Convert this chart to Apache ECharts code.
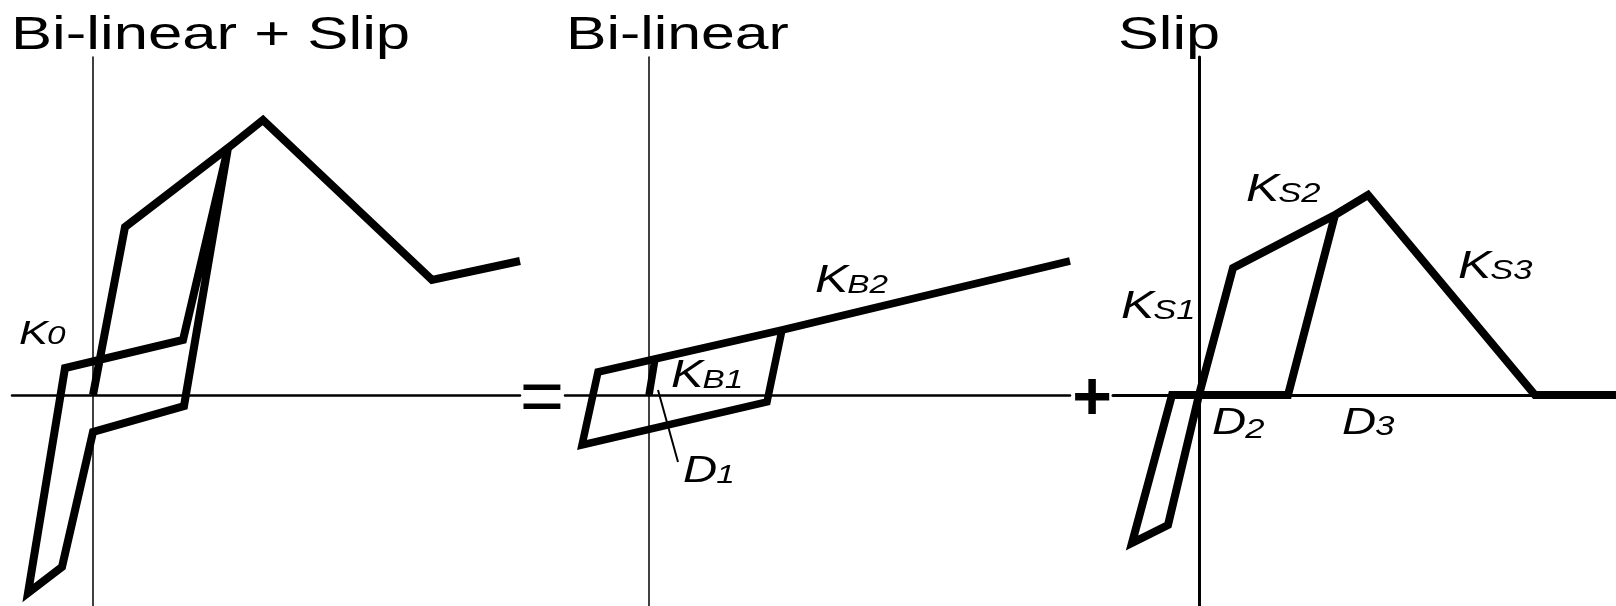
<!DOCTYPE html>
<html lang="en">
<head>
    <meta charset="UTF-8">
    <title>Bi-linear + Slip</title>
    <script src="https://cdn.jsdelivr.net/npm/echarts/dist/echarts.min.js"></script>
    <style>
        html, body { margin: 0; padding: 0; background: #fff; }
    </style>
</head>
<body>
<div id="mybox" style="width: 1616px; height: 606px;"></div>
<script>
    // hysteresis paths, displacement / force in arbitrary units
    var comboX = [0, 3.2, 13.5, 9.1, 0, -3.1, -6.5, -2.8, 9.0, 13.5, 17.0, 33.9, 42.7];
    var comboY = [0, 16.8, 24.7, -1.1, -3.7, -17.2, -19.8, 2.7, 5.5, 24.7, 27.5, 11.5, 13.4];

    var bilinX = [0, 0.6, 13.3, 11.8, -6.7, -5.1, 13.3, 42.1];
    var bilinY = [0, 3.6, 6.5, -0.7, -5.0, 2.3, 6.5, 13.4];

    // leader line for D1
    var leaderX = [0.9, 2.9];
    var leaderY = [0.5, -6.7];

    var slipX = [0, 3.4, 13.6, 8.9, -2.7, -6.7, -3.1, 0, 3.4, 13.6, 16.9, 33.6, 41.7];
    var slipY = [0, 12.7, 18.0, 0, 0, -14.8, -13.0, 0, 12.7, 18.0, 20.0, 0, 0];

    var titles = ['Bi-linear + Slip', 'Bi-linear', 'Slip'];

    function pairs(xs, ys) {
        var out = [];
        for (var i = 0; i < xs.length; i++) {
            out.push([xs[i], ys[i]]);
        }
        return out;
    }

    var FONT = '"Liberation Sans", Arial, sans-serif';
    var SX = 1.28; // the source lettering is stretched sideways
    var measure = document.createElement('canvas').getContext('2d');

    function text(s, x, y, size, style, sx) {
        return {
            type: 'text', x: x, y: y, scaleX: sx || SX,
            style: {
                text: s, fill: '#000', fontSize: size, fontFamily: FONT,
                fontStyle: style || 'normal', align: 'left', verticalAlign: 'middle'
            }
        };
    }

    // italic symbol with a smaller suffix, placed by its baseline
    function sym(main, sub, x, base, ms, ss, subDy) {
        measure.font = 'italic ' + ms + 'px ' + FONT;
        var w = measure.measureText(main).width * SX;
        var a = text(main, x, base - 0.35 * ms, ms, 'italic');
        var b = text(sub, x + w - 1, base + (subDy || 0) - 0.35 * ss, ss, 'italic');
        return [a, b];
    }

    function axis(min, max, idx, w) {
        return {
            type: 'value', gridIndex: idx, min: min, max: max,
            axisLine: { show: true, onZero: true, lineStyle: { color: '#000', width: w } },
            axisTick: { show: false },
            axisLabel: { show: false },
            splitLine: { show: false }
        };
    }

    function path(data, idx, w) {
        return {
            type: 'line', xAxisIndex: idx, yAxisIndex: idx,
            data: data, symbol: 'none', clip: false, silent: true,
            lineStyle: { color: '#000', width: w, join: 'miter', miterLimit: 3 }
        };
    }

    var labels = [].concat(
        sym('K', '0', 19, 346, 34, 26),
        sym('K', 'B1', 671, 390, 38, 26),
        sym('K', 'B2', 815, 295, 39, 26),
        sym('D', '1', 683, 485, 37, 26),
        sym('K', 'S1', 1121, 321, 39, 27),
        sym('K', 'S2', 1246, 204, 39, 27),
        sym('K', 'S3', 1458, 281, 39, 27),
        sym('D', '2', 1212, 437, 37, 27, 3),
        sym('D', '3', 1342, 437, 37, 27)
    );

    var mychart = echarts.init(document.getElementById('mybox'));
    mychart.setOption({
        backgroundColor: '#fff',
        animation: false,
        grid: [
            { left: 12, top: 57, width: 508, height: 549 },
            { left: 565, top: 57, width: 505, height: 549 },
            { left: 1113, top: 57, width: 503, height: 549 }
        ],
        xAxis: [
            axis(-8.1, 42.7, 0, 2.5),
            axis(-8.4, 42.1, 1, 2.5),
            axis(-8.6, 41.7, 2, 3)
        ],
        yAxis: [
            axis(-21.1, 33.8, 0, 1.5),
            axis(-21.1, 33.8, 1, 1.5),
            axis(-21.1, 33.8, 2, 3)
        ],
        series: [
            path(pairs(comboX, comboY), 0, 8),
            path(pairs(bilinX, bilinY), 1, 7.5),
            path(pairs(leaderX, leaderY), 1, 2),
            path(pairs(slipX, slipY), 2, 8)
        ],
        graphic: [
            text(titles[0], 11, 36, 46, 'normal', 1.34),
            text(titles[1], 566, 36, 46, 'normal', 1.32),
            text(titles[2], 1118, 36, 46, 'normal', 1.33),
            { type: 'text', x: 542, y: 401, style: { text: '=', fill: '#000', fontSize: 76, fontFamily: FONT, align: 'center', verticalAlign: 'middle' } },
            { type: 'text', x: 1092, y: 400, style: { text: '+', fill: '#000', fontSize: 68, fontFamily: FONT, fontWeight: 'bold', align: 'center', verticalAlign: 'middle' } }
        ].concat(labels)
    });
</script>
</body>
</html>
